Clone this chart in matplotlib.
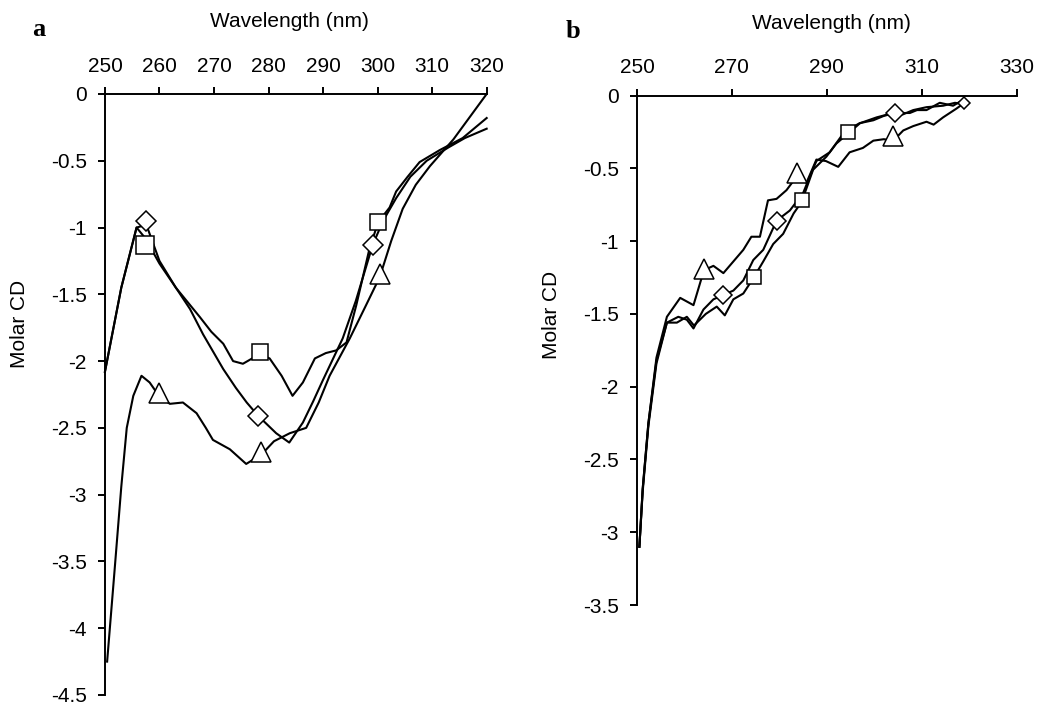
import matplotlib
matplotlib.use("Agg")
import matplotlib.pyplot as plt

plt.rcParams["font.family"] = ["Liberation Sans", "DejaVu Sans"]

# === ПАНЕЛЬ a: данные ===
a_sq_wl = [250, 253, 255.8, 257.4, 260, 263, 265.6, 267.4, 269.5, 271.7, 273.5, 275.3, 277,
           278.5, 280.2, 282.4, 284.4, 286.3, 288.5, 290.5, 292.4, 294.3, 296.1, 298.5, 300.1,
           302.2, 303.4, 305.5, 307.7, 311.4, 315.6, 320]
a_sq_cd = [-2.08, -1.45, -1.0, -1.08, -1.27, -1.45, -1.58, -1.67, -1.78, -1.87, -2.0, -2.02, -1.98,
           -1.95, -1.98, -2.11, -2.26, -2.16, -1.98, -1.94, -1.92, -1.86, -1.58, -1.16, -0.96,
           -0.85, -0.73, -0.62, -0.51, -0.42, -0.33, -0.18]

a_di_wl = [250, 253, 255.8, 257.6, 260, 263, 265.6, 268, 271.7, 274, 276, 278.1, 281.4, 283.8,
           286.3, 288.2, 290, 293.6, 296, 299.1, 301, 303.4, 306, 309, 313, 316, 320]
a_di_cd = [-2.08, -1.45, -1.0, -0.98, -1.25, -1.45, -1.61, -1.8, -2.06, -2.2, -2.31, -2.41, -2.54, -2.61,
           -2.46, -2.3, -2.14, -1.83, -1.55, -1.13, -0.95, -0.78, -0.62, -0.5, -0.4, -0.33, -0.26]

a_tr_wl = [250.4, 251.8, 253, 254, 255.2, 256.7, 258.2, 259.9, 261.9, 264.3, 266.8, 268.5, 269.8,
           272.9, 275.9, 278.7, 281, 283.9, 286.9, 289.2, 291.2, 294.9, 297.9, 300.4, 302.5,
           304.6, 307, 309.6, 313.9, 320]
a_tr_cd = [-4.25, -3.55, -2.94, -2.5, -2.26, -2.11, -2.16, -2.26, -2.32, -2.31, -2.39, -2.5, -2.59,
           -2.66, -2.77, -2.7, -2.6, -2.54, -2.5, -2.31, -2.11, -1.83, -1.58, -1.37, -1.1,
           -0.86, -0.68, -0.54, -0.34, 0.0]

# маркеры на кривых (панель a)
a_sq_mk_wl = [257.4, 278.5, 300.1]
a_sq_mk_cd = [-1.13, -1.93, -0.96]
a_di_mk_wl = [257.6, 278.1, 299.1]
a_di_mk_cd = [-0.95, -2.41, -1.13]
a_tr_mk_wl = [259.9, 278.7, 300.4]
a_tr_mk_cd = [-2.24, -2.68, -1.35]

# === ПАНЕЛЬ b: данные ===
b_tr_wl = [250.5, 251.2, 252.4, 254.1, 256.3, 259.1, 261.9, 264.1, 266.1, 268.2, 270.3, 272.4,
           274.1, 275.9, 277.6, 279.4, 281.5, 283.8, 285.7, 287.8, 289.8, 292.4, 294.8, 297.6,
           299.8, 302, 304, 306.1, 308.2, 311, 312.5, 314.5, 317.3, 319]
b_tr_cd = [-3.1, -2.7, -2.25, -1.8, -1.52, -1.39, -1.44, -1.2, -1.17, -1.22, -1.14, -1.06,
           -0.97, -0.97, -0.72, -0.71, -0.65, -0.55, -0.6, -0.44, -0.45, -0.49, -0.39, -0.36,
           -0.31, -0.3, -0.31, -0.24, -0.21, -0.18, -0.2, -0.15, -0.09, -0.05]

b_di_wl = [250.5, 251.2, 252.4, 254.1, 256.3, 258.7, 260.5, 261.9, 264, 266.1, 268.2, 270.3,
           272.4, 274.5, 276.6, 279.4, 282.2, 285, 286.5, 287.8, 290.6, 293.7, 296.9, 299.8,
           302, 304.3, 307.5, 309, 311, 313.8, 316.6, 318.7]
b_di_cd = [-3.1, -2.7, -2.25, -1.82, -1.56, -1.52, -1.54, -1.6, -1.47, -1.4, -1.37, -1.34,
           -1.27, -1.13, -1.06, -0.86, -0.79, -0.67, -0.55, -0.45, -0.39, -0.25, -0.19, -0.17,
           -0.14, -0.12, -0.12, -0.1, -0.1, -0.05, -0.07, -0.03]

b_sq_wl = [250.5, 251.2, 252.4, 254.1, 256.3, 258.4, 260.5, 262, 264.5, 266.8, 268.5, 270.3,
           272.4, 274.6, 276.6, 278.7, 280.8, 283, 284.7, 287.1, 289.9, 292, 294.5, 297, 300.5,
           304, 306, 308.2, 311, 314.5, 317, 319]
b_sq_cd = [-3.1, -2.72, -2.27, -1.84, -1.56, -1.56, -1.52, -1.58, -1.5, -1.45, -1.51, -1.4,
           -1.36, -1.25, -1.14, -1.02, -0.95, -0.81, -0.73, -0.51, -0.42, -0.33, -0.26, -0.19, -0.15,
           -0.12, -0.13, -0.1, -0.08, -0.07, -0.05, -0.06]

b_sq_mk_wl = [274.6, 284.7, 294.5]
b_sq_mk_cd = [-1.25, -0.72, -0.25]
b_di_mk_wl = [268.2, 279.4, 304.3]
b_di_mk_cd = [-1.37, -0.86, -0.12]
b_tr_mk_wl = [264.1, 283.8, 304.0]
b_tr_mk_cd = [-1.19, -0.53, -0.28]
b_end_wl = [319]
b_end_cd = [-0.05]

a_xticks = [250, 260, 270, 280, 290, 300, 310, 320]
a_yticks = [0, -0.5, -1, -1.5, -2, -2.5, -3, -3.5, -4, -4.5]
b_xticks = [250, 270, 290, 310, 330]
b_yticks = [0, -0.5, -1, -1.5, -2, -2.5, -3, -3.5]

FS = 15

# === ВИЗУАЛИЗАЦИЯ ===
fig = plt.figure(figsize=(10.39, 7.05), dpi=100)
ax_a = fig.add_axes([0.101, 0.0142, 0.3674, 0.8525])
ax_b = fig.add_axes([0.6131, 0.1418, 0.3654, 0.7227])

line_kw = dict(color="black", linewidth=1.5, solid_joinstyle="round")
mk_kw = dict(linestyle="none", markerfacecolor="white", markeredgecolor="black",
             markeredgewidth=1.1, zorder=5)


def style_axes(ax, xticks, yticks, xlim, ylim):
    ax.set_xlim(*xlim)
    ax.set_ylim(*ylim)
    ax.spines["right"].set_visible(False)
    ax.spines["bottom"].set_visible(False)
    ax.spines["top"].set_linewidth(1.4)
    ax.spines["left"].set_linewidth(1.4)
    ax.xaxis.tick_top()
    ax.set_xticks(xticks)
    ax.set_xticklabels([str(t) for t in xticks])
    ax.set_yticks(yticks)
    ax.set_yticklabels(["0" if t == 0 else f"{t:g}" for t in yticks])
    ax.tick_params(axis="x", direction="out", length=5, width=1.4, labelsize=FS, pad=8)
    ax.tick_params(axis="y", direction="out", length=5, width=1.4, labelsize=FS, pad=8)
    for sp in ax.spines.values():
        sp.set_clip_on(False)


# панель a
ax_a.plot(a_sq_wl, a_sq_cd, **line_kw)
ax_a.plot(a_di_wl, a_di_cd, **line_kw)
ax_a.plot(a_tr_wl, a_tr_cd, **line_kw)
ax_a.plot(a_sq_mk_wl[:1], a_sq_mk_cd[:1], marker="s", markersize=13.5, **mk_kw)
ax_a.plot(a_sq_mk_wl[1:], a_sq_mk_cd[1:], marker="s", markersize=11, **mk_kw)
ax_a.plot(a_di_mk_wl, a_di_mk_cd, marker="D", markersize=10, **mk_kw)
ax_a.plot(a_tr_mk_wl, a_tr_mk_cd, marker="^", markersize=14, **mk_kw)
style_axes(ax_a, a_xticks, a_yticks, (250, 320), (-4.5, 0))

# панель b
ax_b.plot(b_sq_wl, b_sq_cd, **line_kw)
ax_b.plot(b_di_wl, b_di_cd, **line_kw)
ax_b.plot(b_tr_wl, b_tr_cd, **line_kw)
ax_b.plot(b_sq_mk_wl, b_sq_mk_cd, marker="s", markersize=10, **mk_kw)
ax_b.plot(b_di_mk_wl, b_di_mk_cd, marker="D", markersize=9, **mk_kw)
ax_b.plot(b_tr_mk_wl, b_tr_mk_cd, marker="^", markersize=15, **mk_kw)
ax_b.plot(b_end_wl, b_end_cd, marker="D", markersize=6, **mk_kw)
style_axes(ax_b, b_xticks, b_yticks, (250, 330), (-3.5, 0))

for ax in (ax_a, ax_b):
    for ln in ax.lines:
        ln.set_clip_on(False)

fig.text(0.279, 0.969, "Wavelength (nm)", fontsize=FS, ha="center", va="center")
fig.text(0.800, 0.966, "Wavelength (nm)", fontsize=FS, ha="center", va="center")
fig.text(0.019, 0.541, "Molar CD", rotation=90, fontsize=FS, ha="center", va="center")
fig.text(0.531, 0.553, "Molar CD", rotation=90, fontsize=FS, ha="center", va="center")
fig.text(0.037, 0.958, "a", fontsize=19, fontweight="bold", family="Liberation Serif",
         ha="center", va="center")
fig.text(0.551, 0.955, "b", fontsize=19, fontweight="bold", family="Liberation Serif",
         ha="center", va="center")

fig.savefig("out.png", dpi=100, facecolor="white")
